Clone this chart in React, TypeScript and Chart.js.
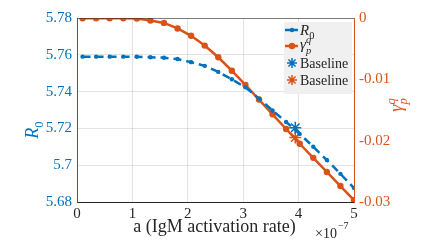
import React, { useEffect, useRef } from "react";
import { Chart, registerables } from "chart.js";

Chart.register(...registerables);

// a values in units of 1e-7
const aValues = [0.1, 0.345, 0.59, 0.835, 1.08, 1.325, 1.57, 1.815, 2.06, 2.305, 2.55, 2.795, 3.04, 3.285, 3.53, 3.775, 4.02, 4.265, 4.51, 4.755, 5.0];
const r0Values = [5.759, 5.759, 5.759, 5.759, 5.7589, 5.7587, 5.7584, 5.7577, 5.756, 5.754, 5.7507, 5.7467, 5.7423, 5.7362, 5.7297, 5.7235, 5.717, 5.71, 5.7028, 5.6953, 5.6876];
const gammaValues = [-0.00005, -0.00005, -0.00005, -0.00006, -0.0001, -0.0004, -0.0008, -0.0017, -0.0029, -0.0045, -0.0064, -0.0086, -0.0109, -0.0133, -0.0157, -0.0181, -0.0205, -0.0228, -0.0251, -0.0274, -0.0297];
const baselineA = [3.94];
const baselineR0 = [5.7204];
const baselineGamma = [-0.0195];
const xTicks = [0, 1, 2, 3, 4, 5];
const leftTicks = [5.68, 5.7, 5.72, 5.74, 5.76, 5.78];
const rightTicks = [-0.03, -0.02, -0.01, 0];

const BLUE = "#0072BD";
const ORANGE = "#D95319";
const DARK = "#262626";
const SERIF = "'Liberation Serif', 'DejaVu Serif', serif";

type Part = { t: string; size: number; italic?: boolean; dy?: number; stackWith?: Part };

function partsWidth(ctx: CanvasRenderingContext2D, parts: Part[]) {
  let w = 0;
  for (const p of parts) {
    ctx.font = `${p.italic ? "italic " : ""}${p.size}px ${SERIF}`;
    let pw = ctx.measureText(p.t).width;
    if (p.stackWith) {
      ctx.font = `${p.stackWith.italic ? "italic " : ""}${p.stackWith.size}px ${SERIF}`;
      pw = Math.max(pw, ctx.measureText(p.stackWith.t).width);
    }
    w += pw;
  }
  return w;
}

function drawParts(ctx: CanvasRenderingContext2D, parts: Part[], x: number, y: number, color: string) {
  ctx.fillStyle = color;
  ctx.textAlign = "left";
  ctx.textBaseline = "alphabetic";
  let cx = x;
  for (const p of parts) {
    ctx.font = `${p.italic ? "italic " : ""}${p.size}px ${SERIF}`;
    ctx.fillText(p.t, cx, y + (p.dy || 0));
    let pw = ctx.measureText(p.t).width;
    if (p.stackWith) {
      const s = p.stackWith;
      ctx.font = `${s.italic ? "italic " : ""}${s.size}px ${SERIF}`;
      ctx.fillText(s.t, cx, y + (s.dy || 0));
      pw = Math.max(pw, ctx.measureText(s.t).width);
    }
    cx += pw;
  }
}

const r0Parts = (size: number): Part[] => [
  { t: "R", size, italic: true },
  { t: "0", size: size * 0.7, dy: size * 0.25 },
];
const gammaParts = (size: number): Part[] => [
  { t: "γ", size, italic: true },
  { t: "q", size: size * 0.7, italic: true, dy: -size * 0.4, stackWith: { t: "p", size: size * 0.7, italic: true, dy: size * 0.3 } },
];

const decorPlugin = {
  id: "decor",
  afterDraw(chart: any) {
    const ctx: CanvasRenderingContext2D = chart.ctx;
    const a = chart.chartArea;
    ctx.save();
    // top border
    ctx.strokeStyle = "rgba(38,38,38,0.55)";
    ctx.lineWidth = 1;
    ctx.beginPath();
    ctx.moveTo(a.left, a.top + 0.5);
    ctx.lineTo(a.right, a.top + 0.5);
    ctx.stroke();

    // x label
    ctx.fillStyle = DARK;
    ctx.font = `18px ${SERIF}`;
    ctx.textAlign = "center";
    ctx.textBaseline = "alphabetic";
    ctx.fillText("a (IgM activation rate)", (a.left + a.right) / 2 - 1, 232);
    // exponent
    ctx.textAlign = "left";
    ctx.font = `14px ${SERIF}`;
    ctx.fillText("×10", 315, 238);
    const w10 = ctx.measureText("×10").width;
    ctx.font = `10px ${SERIF}`;
    ctx.fillText("−7", 315 + w10 + 1, 229);

    // left title
    ctx.save();
    ctx.translate(38, 130);
    ctx.rotate(-Math.PI / 2);
    const lp = r0Parts(18);
    const lw = partsWidth(ctx, lp);
    drawParts(ctx, lp, -lw / 2, 0, BLUE);
    ctx.restore();

    // right title
    ctx.save();
    ctx.translate(396, 105);
    ctx.rotate(-Math.PI / 2);
    const rp = gammaParts(18);
    const rw = partsWidth(ctx, rp);
    drawParts(ctx, rp, -rw / 2, 6, ORANGE);
    ctx.restore();

    // legend
    const lx = 284, ly = 22, lw2 = 68, lh = 72;
    ctx.fillStyle = "rgb(240,240,240)";
    ctx.fillRect(lx, ly, lw2, lh);
    const rows = [30, 46, 63, 80];
    // row 1
    ctx.strokeStyle = BLUE;
    ctx.lineWidth = 2.5;
    ctx.beginPath();
    ctx.moveTo(285, rows[0]);
    ctx.lineTo(298, rows[0]);
    ctx.stroke();
    ctx.fillStyle = BLUE;
    ctx.beginPath();
    ctx.arc(292, rows[0], 2.2, 0, Math.PI * 2);
    ctx.fill();
    drawParts(ctx, r0Parts(15), 300, rows[0] + 5, DARK);
    // row 2
    ctx.strokeStyle = ORANGE;
    ctx.beginPath();
    ctx.moveTo(285, rows[1]);
    ctx.lineTo(298, rows[1]);
    ctx.stroke();
    ctx.fillStyle = ORANGE;
    ctx.beginPath();
    ctx.arc(292, rows[1], 3.2, 0, Math.PI * 2);
    ctx.fill();
    drawParts(ctx, gammaParts(15), 300, rows[1] + 3, DARK);
    // asterisks
    const star = (x: number, y: number, c: string) => {
      ctx.strokeStyle = c;
      ctx.lineWidth = 1.5;
      const r = 5;
      ctx.beginPath();
      for (let k = 0; k < 4; k++) {
        const ang = (k * Math.PI) / 4;
        ctx.moveTo(x - r * Math.cos(ang), y - r * Math.sin(ang));
        ctx.lineTo(x + r * Math.cos(ang), y + r * Math.sin(ang));
      }
      ctx.stroke();
    };
    star(292, rows[2], BLUE);
    star(292, rows[3], ORANGE);
    ctx.fillStyle = DARK;
    ctx.font = `14px ${SERIF}`;
    ctx.textAlign = "left";
    ctx.textBaseline = "middle";
    ctx.fillText("Baseline", 300, rows[2] + 1);
    ctx.fillText("Baseline", 300, rows[3] + 1);
    ctx.restore();
  },
};

export default function App() {
  const ref = useRef<HTMLCanvasElement | null>(null);
  useEffect(() => {
    document.body.style.margin = "0";
    document.body.style.background = "#ffffff";
    const canvas = ref.current!;
    const chart = new Chart(canvas, {
      type: "line",
      data: {
        datasets: [
          {
            label: "R0",
            data: aValues.map((x, i) => ({ x, y: r0Values[i] })),
            yAxisID: "yL",
            borderColor: BLUE,
            backgroundColor: BLUE,
            borderWidth: 2.5,
            borderDash: [8, 5],
            pointRadius: 2.2,
            pointBorderWidth: 0,
            pointBackgroundColor: BLUE,
            tension: 0,
          },
          {
            label: "gamma",
            data: aValues.map((x, i) => ({ x, y: gammaValues[i] })),
            yAxisID: "yR",
            borderColor: ORANGE,
            backgroundColor: ORANGE,
            borderWidth: 2.5,
            pointRadius: 3.2,
            pointBorderWidth: 0,
            pointBackgroundColor: ORANGE,
            tension: 0,
          },
          {
            label: "Baseline",
            data: baselineA.map((x, i) => ({ x, y: baselineR0[i] })),
            yAxisID: "yL",
            showLine: false,
            pointStyle: "star",
            pointRadius: 6,
            pointBorderWidth: 1.5,
            borderColor: BLUE,
            backgroundColor: BLUE,
          },
          {
            label: "Baseline",
            data: baselineA.map((x, i) => ({ x, y: baselineGamma[i] })),
            yAxisID: "yR",
            showLine: false,
            pointStyle: "star",
            pointRadius: 6,
            pointBorderWidth: 1.5,
            borderColor: ORANGE,
            backgroundColor: ORANGE,
          },
        ],
      },
      options: {
        responsive: false,
        animation: false,
        devicePixelRatio: 1,
        events: [],
        layout: { padding: { top: 18, left: 0, right: 0, bottom: 0 } },
        plugins: { legend: { display: false }, tooltip: { enabled: false } },
        scales: {
          x: {
            type: "linear",
            min: 0,
            max: 5,
            afterFit: (s: any) => { s.height = 43; },
            afterBuildTicks: (s: any) => { s.ticks = xTicks.map((v) => ({ value: v })); },
            ticks: { color: DARK, font: { family: SERIF, size: 15 }, padding: 3, maxRotation: 0, callback: (v: any) => String(v) },
            grid: { color: "rgba(38,38,38,0.13)", drawTicks: false },
            border: { color: DARK, width: 1 },
          },
          yL: {
            type: "linear",
            position: "left",
            min: 5.68,
            max: 5.78,
            afterFit: (s: any) => { s.width = 77; },
            afterBuildTicks: (s: any) => { s.ticks = leftTicks.map((v) => ({ value: v })); },
            ticks: { color: BLUE, font: { family: SERIF, size: 15 }, padding: 5, callback: (v: any) => String(+Number(v).toFixed(2)) },
            grid: { color: "rgba(38,38,38,0.13)", drawTicks: false },
            border: { color: BLUE, width: 1 },
          },
          yR: {
            type: "linear",
            position: "right",
            min: -0.03,
            max: 0,
            afterFit: (s: any) => { s.width = 67; },
            afterBuildTicks: (s: any) => { s.ticks = rightTicks.map((v) => ({ value: v })); },
            ticks: { color: ORANGE, font: { family: SERIF, size: 15 }, padding: 5, callback: (v: any) => { const n = +Number(v).toFixed(2); return n === 0 ? "0" : String(n); } },
            grid: { drawOnChartArea: false, drawTicks: false },
            border: { color: ORANGE, width: 1 },
          },
        },
      },
      plugins: [decorPlugin],
    } as any);
    return () => chart.destroy();
  }, []);
  return (
    <div style={{ position: "fixed", left: 0, top: 0, width: 421, height: 245, background: "#fff" }}>
      <canvas ref={ref} width={421} height={245} style={{ width: 421, height: 245, display: "block" }} />
    </div>
  );
}
